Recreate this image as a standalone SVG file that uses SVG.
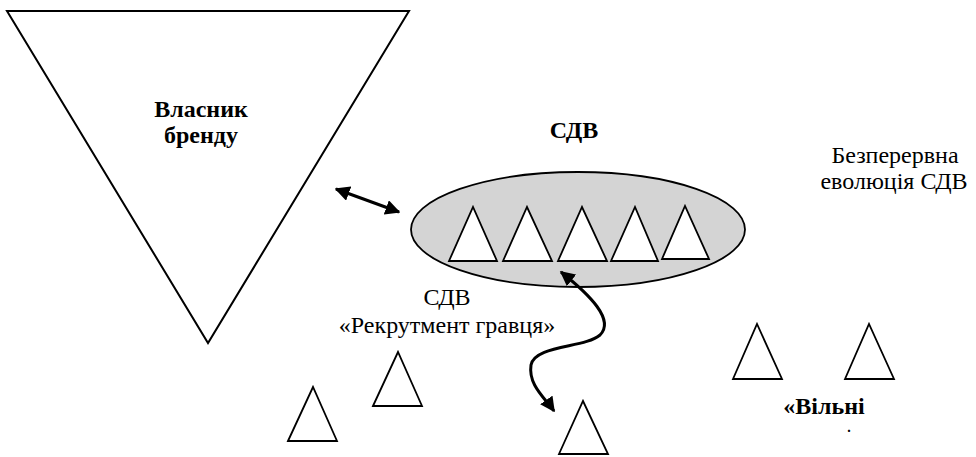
<svg xmlns="http://www.w3.org/2000/svg" width="976" height="457" viewBox="0 0 976 457">
<defs>
<style>
.tri{fill:#fff;stroke:#000;stroke-width:1.8;stroke-linejoin:miter}
.big{fill:#fff;stroke:#000;stroke-width:2}
.t{font-family:'Liberation Serif','Times New Roman','DejaVu Serif',serif;font-size:24px;fill:#000}
.b{font-weight:bold}
.conn{fill:none;stroke:#000;stroke-width:3}
</style>
<marker id="ah" viewBox="0 0 10 10" refX="9" refY="5" markerWidth="5" markerHeight="5" orient="auto-start-reverse" markerUnits="strokeWidth">
<path d="M0,0 L10,5 L0,10 z" fill="#000"/>
</marker>
</defs>
<rect width="976" height="457" fill="#fff"/>
<g id="owner">
<polygon class="big" points="7,11 409,11 208,343"/>
<text class="t b" x="201" y="117" text-anchor="middle">Власник</text>
<text class="t b" x="201" y="143" text-anchor="middle">бренду</text>
</g>
<g id="sdv">
<text class="t b" x="574" y="138" text-anchor="middle">СДВ</text>
<ellipse cx="578" cy="229.5" rx="167" ry="57.5" fill="#d4d4d4" stroke="#000" stroke-width="1.8"/>
<polygon class="tri" points="449,261 473,207 497,261"/>
<polygon class="tri" points="503,261 527,207 552,261"/>
<polygon class="tri" points="558,261 582,207 607,261"/>
<polygon class="tri" points="611,261 635,207 658,261"/>
<polygon class="tri" points="662,259 685,206 709,259"/>
</g>
<g id="evolution">
<text class="t" x="895" y="163" text-anchor="middle">Безперервна</text>
<text class="t" x="894" y="189" text-anchor="middle">еволюція СДВ</text>
</g>
<g id="recruit">
<text class="t" x="447" y="305" text-anchor="middle">СДВ</text>
<text class="t" x="447" y="333" text-anchor="middle">«Рекрутмент гравця»</text>
</g>
<g id="player-a"><polygon class="tri" points="373,406 398,352 422,406"/></g>
<g id="player-b"><polygon class="tri" points="288,441 313,387 337,441"/></g>
<g id="player-c"><polygon class="tri" points="559,454 583,401 608,454"/></g>
<g id="player-d"><polygon class="tri" points="733,379 757,324 782,379"/></g>
<g id="player-e"><polygon class="tri" points="845,379 869,324 894,379"/></g>
<g id="free">
<text class="t b" x="824" y="414" text-anchor="middle">«Вільні</text>
<text class="t b" x="849" y="432" text-anchor="middle" style="font-size:14px">.</text>
</g>
<g id="connectors">
<line class="conn" x1="336" y1="189" x2="399" y2="212" marker-start="url(#ah)" marker-end="url(#ah)"/>
<path class="conn" d="M 561 272 C 590 295, 615 320, 600 335 C 585 348, 535 345, 531 365 C 528 385, 545 398, 554 411" marker-start="url(#ah)" marker-end="url(#ah)"/>
</g>
</svg>
